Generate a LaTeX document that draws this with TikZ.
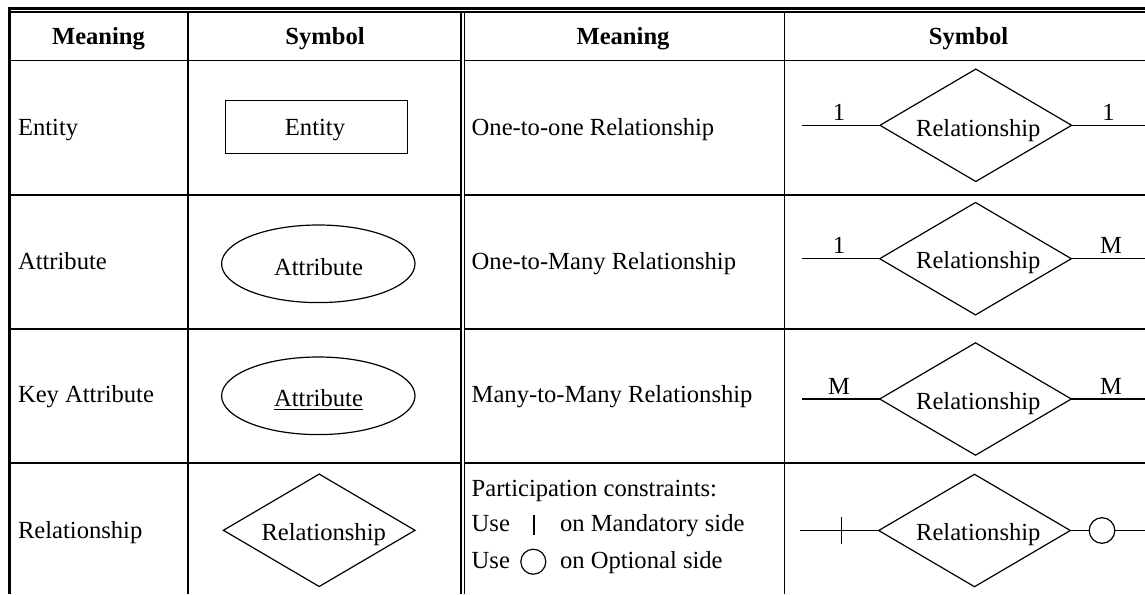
\documentclass[tikz,border=0pt]{standalone}
\usepackage{fontspec}
\setmainfont{Liberation Serif}
\usetikzlibrary{shapes.geometric}
\begin{document}
\begin{tikzpicture}[x=1pt,y=-1pt,
  txt/.style={inner sep=0pt,outer sep=0pt,font=\fontsize{24.6}{29}\selectfont},
  hdr/.style={txt,font=\fontsize{24.6}{29}\selectfont\bfseries,anchor=base},
  cell/.style={txt,anchor=base west},
  lbl/.style={txt,anchor=base},
  rel/.style={draw,diamond,inner sep=0pt,outer sep=0pt,minimum width=191.6,minimum height=112.4,line width=1.2},
  attr/.style={draw,ellipse,inner sep=0pt,outer sep=0pt,minimum width=193.4,minimum height=77.6,line width=1.2},
  ent/.style={draw,rectangle,inner sep=0pt,outer sep=0pt,minimum width=182,minimum height=53.3,line width=1},
  conn/.style={line width=1.2},
  thick rule/.style={line width=2},
  thin rule/.style={line width=1.2}]
\useasboundingbox (0,0) rectangle (1145,594);
% ---------- table rules ----------
\draw[line width=2.7] (7.5,8.7) -- (1145,8.7);
\draw[thin rule] (10.5,12) -- (1145,12);
\draw[line width=3] (9,7.4) -- (9,594);
\draw[thick rule] (188,12) -- (188,594);
\draw[thick rule] (460.5,12) -- (460.5,594);
\draw[thin rule] (464.3,12) -- (464.3,594);
\draw[thin rule] (784.5,12) -- (784.5,594);
\draw[thin rule] (10.5,60.5) -- (459.5,60.5);
\draw[thin rule] (465,60.5) -- (1145,60.5);
\foreach \yy in {195,328.7,463.3}{
  \draw[thick rule] (10.5,\yy) -- (459.5,\yy);
  \draw[thick rule] (465,\yy) -- (1145,\yy);
}
% ---------- header ----------
\node[hdr] (h1) at (98.5,45) {Meaning};
\node[hdr] (h2) at (325,45) {Symbol};
\node[hdr] (h3) at (623,45) {Meaning};
\node[hdr] (h4) at (968.5,45) {Symbol};
% ---------- row 1 ----------
\node[cell] (m1) at (18,135) {Entity};
\node[ent] (e1) at (316,126.7) {};
\node[lbl] (e1t) at (315,135) {Entity};
\node[cell] (n1) at (471.7,135) {One-to-one Relationship};
\node[rel] (d1) at (975.8,125.3) {};
\node[lbl] (d1t) at (978.3,136) {Relationship};
\coordinate (l1) at (801.7,125.3);
\coordinate (r1) at (1146,125.3);
\draw[conn] (l1) -- (d1.west);
\draw[conn] (d1.east) -- (r1);
\node[lbl] (c1l) at (839,120.5) {1};
\node[lbl] (c1r) at (1108.5,120.5) {1};
% ---------- row 2 ----------
\node[cell] (m2) at (18,269.3) {Attribute};
\node[attr] (a2) at (318.3,263.8) {};
\node[lbl] (a2t) at (318.5,275) {Attribute};
\node[cell] (n2) at (471.7,269.3) {One-to-Many Relationship};
\node[rel] (d2) at (975.5,258.7) {};
\node[lbl] (d2t) at (978.3,268.6) {Relationship};
\coordinate (l2) at (801.7,258.7);
\coordinate (r2) at (1146,258.7);
\draw[conn] (l2) -- (d2.west);
\draw[conn] (d2.east) -- (r2);
\node[lbl] (c2l) at (839,253.5) {1};
\node[lbl] (c2r) at (1111,253.5) {M};
% ---------- row 3 ----------
\node[cell] (m3) at (18,402.7) {Key Attribute};
\node[attr] (a3) at (318.3,395.8) {};
\node[lbl] (a3t) at (318.5,406.7) {Attribute};
\draw[line width=1.3] ([yshift=-2.6pt]a3t.base west) -- ([yshift=-2.6pt]a3t.base east);
\node[cell] (n3) at (471.7,402.7) {Many-to-Many Relationship};
\node[rel] (d3) at (975.5,399) {};
\node[lbl] (d3t) at (978.3,409.3) {Relationship};
\coordinate (l3) at (801.7,399);
\coordinate (r3) at (1146,399);
\draw[conn] (l3) -- (d3.west);
\draw[conn] (d3.east) -- (r3);
\node[lbl] (c3l) at (839,394) {M};
\node[lbl] (c3r) at (1111,394) {M};
% ---------- row 4 ----------
\node[cell] (m4) at (18,538) {Relationship};
\node[rel] (d4a) at (319.2,530.3) {};
\node[lbl] (d4at) at (323.7,540.7) {Relationship};
\node[cell] (n4a) at (471.7,496.7) {Participation constraints:};
\node[cell] (n4b) at (471.7,531.7) {Use};
\coordinate (bart) at (534,515);
\coordinate (barb) at (534,535);
\draw[line width=1.1] (bart) -- (barb);
\node[cell] (n4c) at (560,531.7) {on Mandatory side};
\node[cell] (n4d) at (471.7,568.3) {Use};
\node[draw,circle,inner sep=0pt,minimum size=25,line width=1.2] (oc) at (533.3,561.7) {};
\node[cell] (n4e) at (560,568.3) {on Optional side};
\node[rel] (d4) at (974.5,530.5) {};
\node[lbl] (d4t) at (978.3,540.5) {Relationship};
\coordinate (l4) at (800,530.5);
\coordinate (tkt) at (841.7,517.3);
\coordinate (tkb) at (841.7,543.5);
\draw[conn] (l4) -- (d4.west);
\draw[conn] (tkt) -- (tkb);
\node[draw,circle,inner sep=0pt,outer sep=0pt,minimum size=25.6,line width=1.2] (c4) at (1102,530.5) {};
\coordinate (r4) at (1146,530.5);
\draw[conn] (d4.east) -- (c4.west);
\draw[conn] (c4.east) -- (r4);
\end{tikzpicture}
\end{document}
